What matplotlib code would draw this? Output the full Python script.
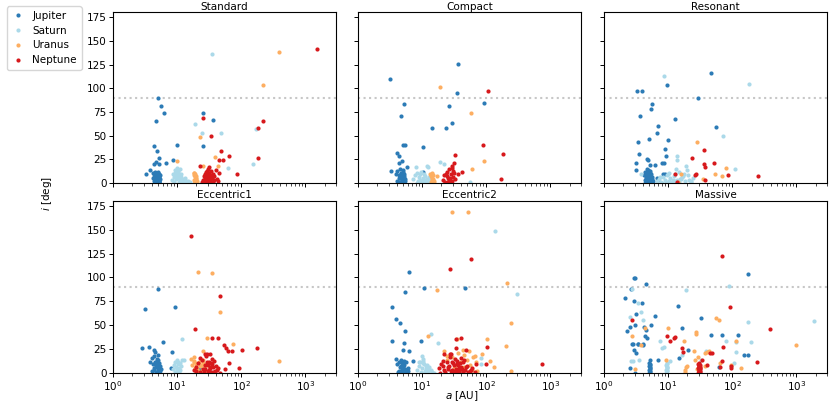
import numpy as np
import matplotlib
matplotlib.use("Agg")
import matplotlib.pyplot as plt
from matplotlib.lines import Line2D

plt.rcParams.update({'font.family': 'DejaVu Sans', 'font.size': 7,
                     'xtick.labelsize': 7.5, 'ytick.labelsize': 7.5})

planets = ['Jupiter', 'Saturn', 'Uranus', 'Neptune']
colors = ['#2c7bb6', '#abd9e9', '#fdae61', '#d7191c']
runs = ['Standard', 'Compact', 'Resonant', 'Eccentric1', 'Eccentric2', 'Massive']

# (a [AU], i [deg])
std_jupiter = [(5.05, 89.6), (5.7, 81), (6.3, 74), (4.7, 65), (4.3, 39), (4.9, 34), (5.2, 26), (4.6, 22),
               (6.6, 21), (5.2, 20), (4.4, 20), (10.1, 40), (8.7, 24.5), (24.9, 74), (25.7, 39), (36.5, 66),
               (3.3, 9), (3.8, 14), (4.2, 11), (4.4, 9), (4.5, 12), (4.6, 10), (4.8, 8), (5.0, 11), (5.1, 9),
               (5.2, 7), (5.2, 5), (5.3, 10), (5.4, 8), (4.3, 6), (4.5, 4), (4.7, 3), (4.9, 7), (5.0, 5),
               (5.1, 3), (5.2, 2), (5.3, 1), (4.4, 2), (4.6, 4), (4.8, 6), (5.0, 0.5), (5.2, 1.5), (5.2, 3.5),
               (5.1, 12), (4.9, 2.5), (4.7, 1), (5.3, 6), (5.5, 4), (4.2, 5), (4.8, 2), (5.0, 8), (5.2, 0.8)]
std_saturn = [(35.2, 136.5), (18.9, 62), (24.6, 52.5), (48, 53), (63, 16), (154, 20), (170, 57),
              (8.3, 3), (8.8, 6), (9.2, 14), (9.5, 10), (9.9, 16), (10.2, 8), (10.5, 12), (10.8, 5), (11.2, 2),
              (11.6, 9), (12.0, 4), (12.5, 1.5), (13.0, 3.5), (13.6, 2), (14.2, 1), (15.0, 2.5), (16.0, 0.8),
              (9.0, 1), (9.6, 4.5), (10.0, 7), (10.4, 13), (11.0, 2), (11.5, 6), (12.2, 3), (9.4, 11),
              (10.6, 1), (13.3, 5), (8.6, 9), (10.9, 15), (11.8, 0.5)]
std_uranus = [(393, 138), (215, 103), (23, 48.6), (10, 23.5), (39.6, 27), (42.7, 17.5), (25.5, 17.5),
              (18.0, 10.5), (18.3, 8), (18.6, 11), (18.9, 6), (19.2, 9), (19.5, 4), (19.8, 7), (20.1, 2),
              (18.4, 3), (19.0, 1), (19.6, 5), (20.3, 0.5), (18.7, 1.5), (19.3, 2.5), (27.0, 8)]
std_neptune = [(1490, 141), (215, 65.5), (182, 58.5), (180, 26), (25.2, 68.6), (33.6, 49.7), (48, 34),
               (63.5, 29), (51.6, 24.5), (45, 24.5), (86.6, 10), (22.4, 17.5), (45.6, 10.5),
               (25, 3), (26, 7), (27, 5), (28, 12), (28.5, 2), (29, 9), (29.5, 4), (30, 15), (30.5, 6),
               (31, 1), (31.5, 11), (32, 8), (33, 3), (34, 13), (35, 5), (36, 10), (38, 7), (40, 14),
               (42, 4), (44, 2), (26.5, 1), (27.5, 10), (29, 6), (30, 2.5), (31, 17), (32.5, 4.5),
               (33.5, 1.5), (35, 8), (37, 3), (28, 0.5), (30, 11), (32, 0.8), (34, 6), (36, 1),
               (29.5, 13), (31, 3.5), (33, 2), (24.5, 1.5)]

cmp_jupiter = [(3.18, 110), (35.8, 125.6), (35.4, 95.5), (5.13, 83.6), (4.66, 70.3), (26.6, 81.5),
               (93, 84.7), (14, 58.4), (23.3, 58.4), (29.3, 63), (4.95, 40.6), (5.4, 40.6), (10.2, 38.5),
               (4.0, 31.8), (4.3, 28), (4.9, 22.8), (4.3, 21), (5.8, 16.5), (3.26, 12.6), (10.5, 12),
               (3.9, 10), (4.1, 13), (4.3, 8), (4.5, 15), (4.7, 11), (4.9, 6), (5.1, 12), (5.3, 9),
               (5.5, 4), (4.0, 2), (4.4, 5), (4.8, 3), (5.2, 7), (4.2, 1), (4.6, 9), (5.0, 14), (5.4, 2),
               (4.3, 0.8), (4.7, 0.5), (5.1, 1.5), (4.5, 6), (4.9, 3.5), (5.3, 1), (5.0, 10), (5.2, 5),
               (4.8, 2.5)]
cmp_saturn = [(19, 22), (22.2, 20), (12, 18), (12.3, 17), (8.1, 16.5), (55, 0.7),
              (7.3, 4), (7.8, 8), (8.2, 11), (8.6, 2), (9.0, 6), (9.4, 9), (9.8, 1), (10.2, 5),
              (10.6, 3), (11.0, 7), (11.5, 1.5), (12.0, 4), (12.6, 2.5), (13.2, 5.5), (13.9, 1),
              (14.5, 3), (8.4, 0.5), (9.2, 3.5), (10.0, 0.8), (10.8, 10), (11.8, 2), (12.9, 6.5),
              (9.6, 12), (11.2, 0.5)]
cmp_uranus = [(19.3, 101), (57.7, 73.5), (93, 22.8), (60.6, 14.4), (16.9, 7),
              (13.4, 10), (13.8, 7), (14.2, 11), (14.6, 4), (15.0, 8), (15.4, 2), (13.6, 1),
              (14.4, 5), (15.2, 0.5), (14.0, 3)]
cmp_neptune = [(105, 97.3), (87.7, 40.6), (181, 30.5), (33, 29.4), (167, 3.9), (41.4, 12), (36, 9),
               (21, 3), (22, 8), (23, 1), (24, 12), (25, 5), (26, 15), (27, 2), (28, 10), (29, 18),
               (30, 6), (31, 21), (32, 4), (22.5, 0.5), (24.5, 7), (26.5, 3.5), (28.5, 1.5), (30.5, 13),
               (23.5, 9), (25.5, 0.8), (27.5, 5.5), (29.5, 2.5), (31.5, 11), (29, 16)]

res_jupiter = [(47, 116.5), (9.5, 103.6), (3.3, 97.6), (3.86, 96.6), (28.8, 89.6), (5.53, 83.6),
               (5.47, 77.7), (3.68, 70.3), (12.9, 67.5), (6.86, 60.5), (6.7, 53.2), (55, 59), (9.8, 45),
               (5.08, 46), (3.43, 43), (8.9, 36), (3.55, 31), (9.1, 28.4), (4.6, 25), (4.8, 24.5),
               (3.1, 20.6), (5.2, 19), (6.3, 19), (3.15, 14), (8.0, 21), (8.5, 21),
               (6.7, 5), (7.0, 3), (8.2, 10), (8.9, 10),
               (4.2, 8), (4.4, 12), (4.6, 15), (4.8, 10), (5.0, 6), (5.2, 13), (5.4, 9), (5.6, 4),
               (5.9, 2), (4.3, 3), (4.5, 5), (4.7, 1), (4.9, 14), (5.1, 7), (5.3, 11), (5.5, 1.5),
               (4.4, 0.5), (4.8, 2.5), (5.2, 0.8), (5.6, 6), (4.6, 8.5), (5.0, 3.5), (5.4, 1),
               (4.9, 4.5), (5.1, 2), (4.5, 7), (5.3, 5.5), (4.7, 10.5), (5.0, 12.5), (5.2, 9)]
res_saturn = [(8.5, 112.7), (180, 105), (71.6, 49.4), (110, 14.7), (13.9, 28), (13.9, 24.5), (3.8, 9.8),
              (6.6, 2), (7.2, 4), (7.8, 1), (8.4, 6), (9.0, 3), (9.6, 8), (10.2, 2.5), (10.8, 5),
              (11.5, 1.5), (12.2, 7), (13.0, 10), (13.8, 3), (14.6, 12), (15.5, 4.5), (16.5, 6),
              (17.5, 9), (18.6, 2), (19.8, 14), (21, 3.5), (22.5, 1), (24, 5), (8.0, 0.5), (9.3, 1),
              (10.5, 11), (11.8, 3), (13.4, 15), (15.0, 0.8), (17.0, 7.5), (19.2, 18), (7.5, 6.5),
              (12.6, 2), (16.0, 4), (20.5, 8), (23, 2.5), (10, 9.5), (14.2, 1.2)]
res_uranus = [(28.2, 43.7), (80, 15.8), (53.7, 10), (68, 7), (15.7, 9), (35, 4.5), (14, 0.7)]
res_neptune = [(36.6, 34.6), (23.5, 26), (36.3, 20.3), (51, 21.4), (37.5, 16.5), (85.6, 8), (251, 7),
               (12.9, 10), (27.5, 9), (26.5, 8), (37, 3.5), (13.8, 1)]

ecc1_jupiter = [(5.04, 88.4), (3.19, 67.4), (9.2, 69.5), (6.1, 32.8), (2.87, 25.8), (3.69, 27.6),
                (4.4, 24), (4.5, 22), (8.4, 21.7), (8.0, 4.9), (23, 4.2),
                (3.8, 12), (4.0, 16), (4.2, 9), (4.4, 18), (4.6, 6), (4.8, 13), (5.0, 3), (5.2, 10),
                (5.4, 7), (5.6, 4), (4.1, 2), (4.5, 11), (4.9, 15), (5.3, 1), (4.3, 5), (4.7, 8),
                (5.1, 19), (5.5, 2.5), (4.6, 0.5), (5.0, 14), (5.2, 6), (4.4, 3.5), (4.8, 1.5),
                (5.1, 9), (5.0, 0.8), (5.2, 4)]
ecc1_saturn = [(11.9, 36), (11.7, 14), (13, 13.5),
               (8.7, 4), (9.0, 8), (9.3, 11), (9.6, 6), (9.9, 14), (10.2, 9), (10.5, 12), (10.8, 5),
               (11.1, 3), (11.4, 7), (9.2, 1), (9.8, 2), (10.4, 0.5), (11.0, 10), (10.0, 4.5), (10.6, 1.5)]
ecc1_uranus = [(21, 105.5), (35, 104.8), (46.8, 64.3), (29.6, 36.7), (74.7, 30.4), (384, 12.6), (25, 23),
               (16.7, 14.7), (18.6, 16.5), (25.2, 13.3), (29, 9.8),
               (17, 8), (18, 11), (19, 5), (20, 9), (21, 2), (22, 12), (23, 7), (24, 3), (25.5, 10),
               (27, 6), (28.5, 1), (18.5, 13), (20.5, 4), (22.5, 0.5), (24.5, 8.5), (26.5, 2.5),
               (19.5, 1.5)]
ecc1_neptune = [(16.7, 142.9), (46, 80.3), (19.2, 46), (35, 36.5), (43, 36.5), (54, 29), (58, 25.8),
                (63, 23.3), (72, 23.3), (104, 24.4), (174, 25.8), (64.5, 10.5), (92.5, 5.6), (55, 4.2),
                (27.6, 20.3), (32, 19.6),
                (18, 3), (19.5, 6), (21, 10), (22.5, 1), (24, 14), (25.5, 4), (27, 8), (28.5, 18),
                (30, 2), (31.5, 12), (33, 5), (34.5, 9), (36, 1.5), (38, 13), (40, 7), (42, 3),
                (44, 5.5), (46, 0.5), (20, 2.5), (23, 16), (26, 0.8), (29, 11), (32, 6.5), (35, 15),
                (39, 2), (27.5, 4.5), (30.5, 8.5), (33.5, 1), (31, 3.5), (29, 20), (34, 10.5),
                (36.5, 6)]

ecc2_jupiter = [(6.26, 105.8), (5.36, 84.9), (10.6, 89), (46.9, 89), (3.41, 69.5), (3.94, 56.2),
                (4.59, 52.4), (5.43, 44), (3.37, 33.9), (5.18, 31.8), (5.1, 24), (6.2, 23), (9.6, 33.9),
                (3.85, 15), (7.3, 12.6), (6.1, 1.7),
                (4.1, 9), (4.3, 12), (4.5, 6), (4.7, 14), (4.9, 10), (5.1, 7), (5.3, 13), (5.5, 4),
                (5.7, 11), (6.0, 5), (4.4, 2), (4.8, 3), (5.2, 8), (5.6, 1.5), (4.6, 0.5), (5.0, 5.5),
                (5.4, 2.5), (4.2, 1), (4.9, 3.5), (5.3, 0.8), (5.1, 11), (4.7, 7.5)]
ecc2_saturn = [(137, 148.4), (301, 83.1), (13.6, 41.2), (17.8, 31.4), (84, 15.7), (84, 9.8),
               (8.3, 3), (8.8, 7), (9.3, 11), (9.8, 5), (10.3, 15), (10.8, 9), (11.3, 4), (11.8, 8),
               (12.4, 2), (13.0, 6), (13.7, 3.5), (14.4, 1), (15.2, 0.5), (9.0, 12), (10.0, 18),
               (11.0, 2.5), (12.0, 5.5), (9.5, 1.5), (10.5, 10), (11.5, 7), (12.7, 3), (10.2, 13),
               (10.9, 0.8)]
ecc2_uranus = [(28.8, 168.7), (51, 168.7), (208, 94.7), (17, 86.6), (243, 52), (12.2, 39), (101.7, 35.6),
               (35.2, 35.6), (200, 28.6), (87, 20), (113, 12.6), (130, 6), (240, 2.5), (71, 1.7),
               (59.5, 3.5), (21.6, 22.7), (24.3, 17.8), (29.1, 16.4), (35.7, 21.3), (43.1, 24.1),
               (45.2, 18.9), (54, 23), (62.4, 16.8), (68.7, 11.5), (56.7, 8.7), (34, 8.7), (24, 13.3),
               (67, 17.5), (44.2, 6.6), (31, 5), (40, 12), (50, 14)]
ecc2_neptune = [(58, 119.1), (27.1, 109.3), (39.8, 36.7), (34, 35.3), (104, 26.9), (47.5, 24.5),
                (33.6, 26.2), (21.6, 20.3), (27.7, 19.6), (734, 9.8), (99, 9.8),
                (18, 5), (20, 9), (22, 3), (24, 12), (26, 7), (28, 2), (30, 10), (32, 15), (34, 4),
                (36, 8), (38, 1), (40, 6), (43, 11), (46, 3.5), (50, 7.5), (55, 2), (60, 5.5), (66, 1),
                (70, 9), (19, 0.5), (21, 13), (23, 1.5), (25, 6), (27, 17), (29, 3), (31, 8.5),
                (33, 0.8), (35, 12.5), (37, 2.5), (39, 10.5), (42, 4.5), (45, 14), (48, 6.5),
                (52, 1.2), (58, 3), (21.5, 7), (25.5, 4), (29.5, 11.5), (33.5, 1), (37.5, 5),
                (41, 16), (30.5, 2), (34.5, 9.5), (38.5, 3.8), (27.5, 20), (44, 0.6)]

mas_jupiter = [(2.94, 99.9), (3.08, 99.2), (4.57, 93.6), (2.67, 88), (2.15, 79), (2.94, 75.1),
               (3.87, 73), (14.4, 69.9), (6.3, 60), (178, 103.7), (33, 58), (3.08, 50.6), (5.5, 50.3),
               (2.5, 48.2), (2.3, 44), (4.2, 48), (4.5, 44.5), (4.4, 39), (4.7, 36.5), (16.5, 47.5),
               (3.1, 61.5), (2.7, 30), (2.85, 30.5), (3.35, 30), (3.45, 30.5), (4.1, 29), (4.0, 30),
               (2.9, 24), (3.2, 21.3), (47, 40.2), (68.5, 40.2), (125, 39.5), (15, 16), (20.2, 24),
               (150, 18.9), (176, 18.9), (7, 14), (5.3, 13.6), (2.57, 5.2), (62, 6.3), (3, 0.3),
               (5.1, 0.4), (5.15, 1.2), (5.2, 2.3), (5.1, 3.1), (5.15, 4.4), (5.2, 5.2), (5.15, 6.3),
               (5.1, 7.1), (5.2, 8.4), (5.15, 9.6), (5.1, 10.5)]
mas_saturn = [(2.73, 88), (90, 91.2), (19, 86.6), (3.45, 73.7), (3.73, 64.3), (2.55, 59), (4.0, 55.5),
              (178, 53.8), (1890, 54.8), (7.6, 33.5), (8.1, 26), (8.6, 27), (79, 33.5), (196, 32),
              (116, 32), (114, 21.7), (16.7, 19.2), (39.6, 23), (2.6, 12.5), (2.8, 13), (3.5, 13.2),
              (10.8, 12.6), (33, 13.3), (95, 7.7), (108, 10),
              (9.4, 0.5), (9.5, 1.6), (9.6, 2.7), (9.4, 3.6), (9.5, 4.8), (9.6, 5.9), (9.5, 6.8),
              (9.4, 8.1), (9.6, 9.2), (9.5, 10.3)]
mas_uranus = [(2.7, 38.4), (3.8, 29), (4.37, 47.5), (9.85, 47.5), (27, 43), (27.5, 41), (56.6, 58),
              (62, 55.9), (980, 29), (114, 33.9), (17.9, 33.5), (29, 17.1), (25, 23), (37, 21),
              (40, 22), (43, 23), (18.9, 6), (18.3, 3.5), (18.6, 1), (19.9, 7), (9.3, 13.3), (3.05, 3.8),
              (26, 14), (65, 10.8), (95, 8.7), (137, 5.6), (38, 7.3), (28.5, 3.8)]
mas_neptune = [(69.3, 122.9), (92.4, 69.2), (384, 46.1), (2.73, 55.9), (9.5, 39.1), (10.7, 33.2),
               (12.3, 37), (12.8, 37.5), (72.8, 26.9), (16.3, 25.8), (17, 21.7), (45, 21.3),
               (48, 21.3), (69, 12.2), (247, 11.2), (33.7, 13.3), (41, 8), (96, 7.3), (95, 5.2),
               (63.5, 6.3),
               (29.5, 0.4), (30.5, 1.1), (31.5, 1.9), (29.8, 2.6), (30.8, 3.3), (31.2, 4.2),
               (29.6, 5.0), (30.4, 5.8), (31.4, 6.6), (30.0, 7.5), (30.9, 8.3), (29.7, 9.2),
               (30.6, 10.1), (31.0, 0.9), (30.2, 2.0), (29.9, 3.8), (31.3, 5.4), (30.3, 6.9)]

data = {
    'Standard': [std_jupiter, std_saturn, std_uranus, std_neptune],
    'Compact': [cmp_jupiter, cmp_saturn, cmp_uranus, cmp_neptune],
    'Resonant': [res_jupiter, res_saturn, res_uranus, res_neptune],
    'Eccentric1': [ecc1_jupiter, ecc1_saturn, ecc1_uranus, ecc1_neptune],
    'Eccentric2': [ecc2_jupiter, ecc2_saturn, ecc2_uranus, ecc2_neptune],
    'Massive': [mas_jupiter, mas_saturn, mas_uranus, mas_neptune],
}

W, H = 830, 403
fig = plt.figure(figsize=(W / 100, H / 100), dpi=100)

col_left = [113, 358, 604]
col_w = 223
row_top = [12.5, 201]
row_h = [170.5, 172]

for k, run in enumerate(runs):
    r, c = divmod(k, 3)
    ax = fig.add_axes([col_left[c] / W, 1 - (row_top[r] + row_h[r]) / H, col_w / W, row_h[r] / H])
    for pts, col in zip(data[run], colors):
        a = np.array([p[0] for p in pts])
        inc = np.array([p[1] for p in pts])
        ax.plot(a, inc, 'o', color=col, ms=3.0, mew=0)
    ax.axhline(90, color='0.78', ls=':', lw=1.5, zorder=0)
    ax.set_xscale('log')
    ax.set_xlim(1, 3000)
    ax.set_ylim(0, 180)
    ax.set_yticks(np.arange(0, 176, 25))
    ax.set_title(run, fontsize=7.5, pad=2)
    ax.tick_params(length=3, width=0.7, pad=1.5)
    ax.tick_params(which='minor', length=1.8, width=0.5)
    for s in ax.spines.values():
        s.set_linewidth(0.8)
    if r == 0:
        ax.tick_params(labelbottom=False)
    if c > 0:
        ax.tick_params(labelleft=False)

fig.text(47 / W, 1 - 193 / H, '$i$ [deg]', rotation=90, ha='center', va='center', fontsize=7.5)
fig.text(462 / W, 1 - 396 / H, '$a$ [AU]', ha='center', va='center', fontsize=7.5)

handles = [Line2D([], [], ls='none', marker='o', ms=3.0, mew=0, color=col) for col in colors]
fig.legend(handles, planets, loc='upper left', bbox_to_anchor=(0.002, 0.997), fontsize=7.5,
           handlelength=1.2, handletextpad=0.8, borderpad=0.45, labelspacing=0.45)

fig.savefig('out.png', dpi=100)
